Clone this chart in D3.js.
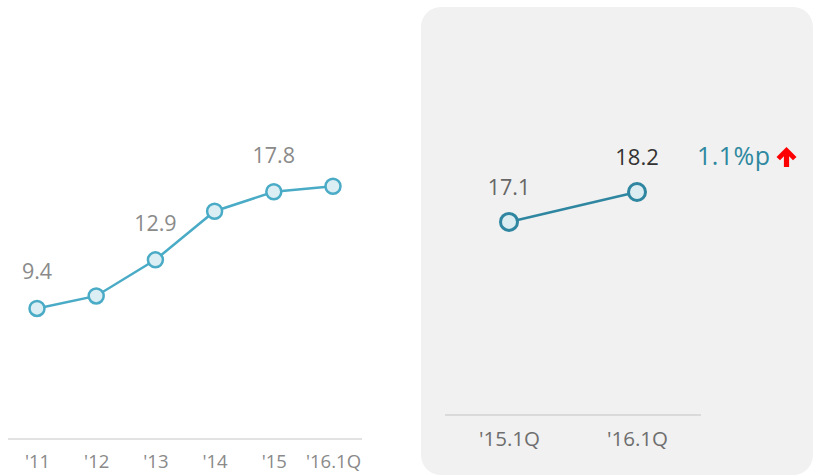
<!DOCTYPE html>
<html>
<head>
<meta charset="utf-8">
<script src="https://cdn.jsdelivr.net/npm/d3@7"></script>
<style>
  html, body { margin: 0; padding: 0; background: #ffffff; }
  svg { display: block; font-family: "Open Sans", "Noto Sans", sans-serif; }
</style>
</head>
<body>
<svg id="chart" width="816" height="476"></svg>
<script>
// Annual trend (left)
const yearLabels = ["'11", "'12", "'13", "'14", "'15", "'16.1Q"];
const yearValues = [9.4, 10.3, 12.9, 16.4, 17.8, 18.2];
const yearShown = [true, false, true, false, true, false];

// Quarter comparison (right)
const quarterLabels = ["'15.1Q", "'16.1Q"];
const quarterValues = [17.1, 18.2];
const changeText = "1.1%p";

const svg = d3.select("#chart");

// ---------- left panel ----------
const xL = d3.scalePoint().domain(yearLabels).range([37, 333]);
const yL = d3.scaleLinear().domain([0, 18]).range([439, 189]);

svg.append("line")
  .attr("x1", 8).attr("x2", 362).attr("y1", 439).attr("y2", 439)
  .attr("stroke", "#d9d9d9").attr("stroke-width", 1.5);

const axisL = svg.append("g").attr("transform", "translate(0,439)")
  .call(d3.axisBottom(xL).tickSize(0).tickPadding(16));
axisL.select(".domain").remove();
axisL.selectAll("text")
  .attr("font-size", 18.5).attr("fill", "#8a8a8a")
  .attr("font-family", "'Open Sans', sans-serif");

const lineL = d3.line().x((d, i) => xL(yearLabels[i])).y(d => yL(d));
svg.append("path").datum(yearValues)
  .attr("d", lineL).attr("fill", "none")
  .attr("stroke", "#4aabc6").attr("stroke-width", 2.5);

svg.selectAll("circle.yr").data(yearValues).enter().append("circle")
  .attr("class", "yr")
  .attr("cx", (d, i) => xL(yearLabels[i])).attr("cy", d => yL(d))
  .attr("r", 7.5)
  .attr("fill", "#daeef4").attr("stroke", "#4aabc6").attr("stroke-width", 2.5);

const shownYears = yearValues
  .map((v, i) => ({ v, label: yearLabels[i], show: yearShown[i] }))
  .filter(d => d.show);

svg.selectAll("text.yrv").data(shownYears).enter().append("text")
  .attr("class", "yrv")
  .attr("x", d => xL(d.label))
  .attr("y", d => yL(d.v) - 29)
  .attr("text-anchor", "middle")
  .attr("font-size", 21.5).attr("fill", "#8a8a8a")
  .text(d => d.v.toFixed(1));

// ---------- right panel ----------
svg.append("rect")
  .attr("x", 421).attr("y", 7).attr("width", 392).attr("height", 468)
  .attr("rx", 20).attr("ry", 20)
  .attr("fill", "#f1f1f1");

const xR = d3.scalePoint().domain(quarterLabels).range([509, 637]);
const yR = d3.scaleLinear().domain([10, 18.2]).range([415, 192]);

svg.append("line")
  .attr("x1", 445).attr("x2", 701).attr("y1", 415).attr("y2", 415)
  .attr("stroke", "#d2d2d2").attr("stroke-width", 1.5);

const axisR = svg.append("g").attr("transform", "translate(0,415)")
  .call(d3.axisBottom(xR).tickSize(0).tickPadding(16));
axisR.select(".domain").remove();
axisR.selectAll("text")
  .attr("font-size", 20.5).attr("fill", "#6e6e6e")
  .attr("font-family", "'Open Sans', sans-serif");

const lineR = d3.line().x((d, i) => xR(quarterLabels[i])).y(d => yR(d));
svg.append("path").datum(quarterValues)
  .attr("d", lineR).attr("fill", "none")
  .attr("stroke", "#2e86a0").attr("stroke-width", 2.5);

svg.selectAll("circle.q").data(quarterValues).enter().append("circle")
  .attr("class", "q")
  .attr("cx", (d, i) => xR(quarterLabels[i])).attr("cy", d => yR(d))
  .attr("r", 8.5)
  .attr("fill", "#dcedf2").attr("stroke", "#2e86a0").attr("stroke-width", 3);

svg.selectAll("text.qv").data(quarterValues).enter().append("text")
  .attr("class", "qv")
  .attr("x", (d, i) => xR(quarterLabels[i]))
  .attr("y", d => yR(d) - 27)
  .attr("text-anchor", "middle")
  .attr("font-size", (d, i) => i === 1 ? 22 : 21.5)
  .attr("font-weight", (d, i) => i === 1 ? 500 : 400)
  .attr("fill", (d, i) => i === 1 ? "#333333" : "#666666")
  .text(d => d.toFixed(1));

// change annotation
svg.append("text")
  .attr("x", 697).attr("y", 165)
  .attr("font-size", 25).attr("fill", "#2e88a0")
  .attr("textLength", 73)
  .text(changeText);

// red up arrow: chevron head + shaft
svg.append("path")
  .attr("d", "M786.5,147 L796.5,157 L793,160.2 L789.1,156.3 L789.1,167 L783.9,167 L783.9,156.3 L780,160.2 L776.5,157 Z")
  .attr("fill", "#ff0000");
</script>
</body>
</html>
